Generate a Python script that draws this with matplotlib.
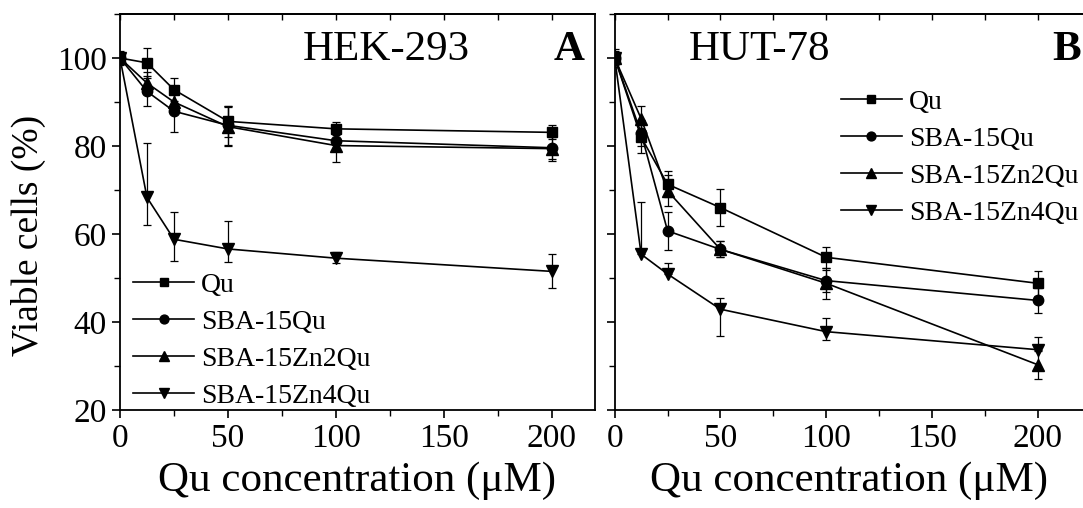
import numpy as np
import matplotlib
matplotlib.use("Agg")
import matplotlib.pyplot as plt
from matplotlib.ticker import MultipleLocator
from matplotlib.lines import Line2D

plt.rcParams['font.family'] = ['Liberation Serif', 'DejaVu Serif']

# Qu concentration (uM)
conc = [0, 12.5, 25, 50, 100, 200]
series = ["Qu", "SBA-15Qu", "SBA-15Zn2Qu", "SBA-15Zn4Qu"]
markers = ["s", "o", "^", "v"]
msizes = [7, 7.5, 9, 9]

# HEK-293 viability (%) and errors (lower, upper)
hek_qu = [100, 98.9, 92.8, 85.6, 83.9, 83.1]
hek_qu_err = [[1.0, 3.4, 2.6, 3.5, 1.5, 1.6], [1.0, 3.4, 2.6, 3.5, 1.5, 1.6]]
hek_sba = [100, 92.4, 87.9, 84.7, 81.2, 79.6]
hek_sba_err = [[1.5, 3.4, 4.7, 4.5, 2.0, 2.5], [1.5, 3.4, 4.7, 4.5, 2.0, 2.5]]
hek_zn2 = [100, 94.3, 90.0, 84.4, 80.1, 79.4]
hek_zn2_err = [[1.0, 2.5, 2.5, 4.5, 3.7, 2.8], [1.0, 2.5, 2.5, 4.5, 3.7, 2.8]]
hek_zn4 = [100, 68.3, 58.8, 56.6, 54.5, 51.5]
hek_zn4_err = [[1.0, 6.3, 4.9, 3.0, 1.0, 3.7], [1.0, 12.4, 6.1, 6.3, 1.5, 4.0]]

# HUT-78 viability (%) and errors (lower, upper)
hut_qu = [100, 82.0, 71.3, 66.0, 54.7, 48.8]
hut_qu_err = [[2.0, 3.5, 3.0, 4.2, 2.4, 2.8], [2.0, 3.5, 3.0, 4.2, 2.4, 2.8]]
hut_sba = [100, 82.9, 60.7, 56.5, 49.4, 44.9]
hut_sba_err = [[1.5, 3.0, 4.4, 1.8, 2.5, 2.9], [1.5, 3.0, 4.4, 1.8, 2.5, 2.9]]
hut_zn2 = [100, 86.2, 69.8, 56.5, 48.8, 30.3]
hut_zn2_err = [[1.0, 3.0, 3.5, 1.8, 3.5, 3.2], [1.0, 3.0, 3.5, 1.8, 3.5, 3.2]]
hut_zn4 = [100, 55.4, 50.9, 42.9, 37.8, 33.7]
hut_zn4_err = [[1.0, 0.0, 0.0, 6.2, 1.8, 0.0], [1.0, 11.9, 2.4, 2.5, 3.2, 2.9]]

hek = [(hek_qu, hek_qu_err), (hek_sba, hek_sba_err), (hek_zn2, hek_zn2_err), (hek_zn4, hek_zn4_err)]
hut = [(hut_qu, hut_qu_err), (hut_sba, hut_sba_err), (hut_zn2, hut_zn2_err), (hut_zn4, hut_zn4_err)]

fig = plt.figure(figsize=(10.83, 5.08), dpi=100)
axA = fig.add_axes([0.1108, 0.193, 0.4386, 0.7794])
axB = fig.add_axes([0.5676, 0.193, 0.4324, 0.7794])


def draw(ax, data, xmax):
    for (vals, err), name, mk, ms in zip(data, series, markers, msizes):
        ax.errorbar(conc, vals, yerr=err, color="black", marker=mk, ms=ms,
                    lw=1.2, elinewidth=0.9, capsize=3, capthick=0.9)
    ax.set_xlim(0, xmax)
    ax.set_ylim(20, 110)
    ax.xaxis.set_major_locator(MultipleLocator(50))
    ax.xaxis.set_minor_locator(MultipleLocator(25))
    ax.yaxis.set_major_locator(MultipleLocator(20))
    ax.yaxis.set_minor_locator(MultipleLocator(10))
    ax.tick_params(which="major", direction="out", length=6, width=1.2,
                   labelsize=24, top=False, right=False)
    ax.tick_params(which="minor", direction="out", length=4, width=1.0,
                   top=False, right=False)
    for s in ax.spines.values():
        s.set_linewidth(1.3)
    # inward ticks along the top spine
    sec = ax.secondary_xaxis("top")
    sec.xaxis.set_major_locator(MultipleLocator(25))
    sec.tick_params(direction="in", length=4, width=1.0, labeltop=False)
    sec.spines["top"].set_linewidth(1.3)
    ax.set_xlabel("Qu concentration (μM)", fontsize=31, labelpad=6)


draw(axA, hek, 220)
draw(axB, hut, 221.5)

axA.set_ylabel("Viable cells (%)", fontsize=27, labelpad=4)
axA.yaxis.set_label_coords(-0.155, 0.44)
axB.tick_params(labelleft=False)
axB.spines["right"].set_visible(False)

axA.text(0.56, 0.91, "HEK-293", transform=axA.transAxes, fontsize=31,
         ha="center", va="center")
axA.text(0.945, 0.91, "A", transform=axA.transAxes, fontsize=31,
         fontweight="bold", ha="center", va="center")
axB.text(0.31, 0.91, "HUT-78", transform=axB.transAxes, fontsize=31,
         ha="center", va="center")
axB.text(0.965, 0.91, "B", transform=axB.transAxes, fontsize=31,
         fontweight="bold", ha="center", va="center")

handles = [Line2D([], [], color="black", lw=1.2, marker=mk, ms=ms * 0.85)
           for mk, ms in zip(markers, msizes)]
leg_kw = dict(frameon=False, fontsize=20, handlelength=2.2, handletextpad=0.25,
              labelspacing=0.42, borderpad=0, borderaxespad=0)
axA.legend(handles, series, loc="lower left", bbox_to_anchor=(0.028, 0.002), **leg_kw)
axB.legend(handles, series, loc="upper left", bbox_to_anchor=(0.483, 0.81), **leg_kw)

fig.savefig("out.png", dpi=100)
